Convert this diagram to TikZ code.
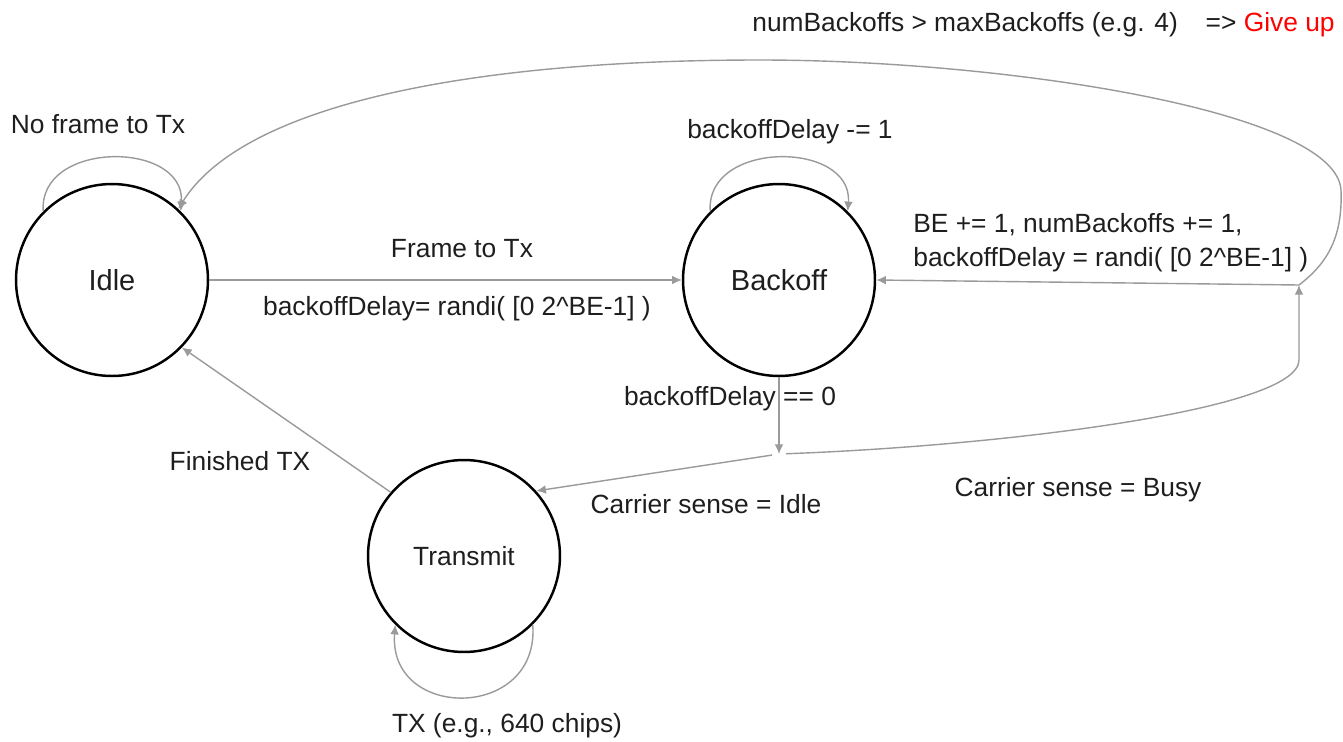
\documentclass[tikz,border=0pt]{standalone}
\usepackage{fontspec}
\setmainfont{Liberation Sans}
\usetikzlibrary{arrows.meta}
\definecolor{edgegray}{HTML}{9A9A9A}
\definecolor{txt}{HTML}{1E1E1E}
\begin{document}
\begin{tikzpicture}[x=0.02cm,y=-0.02cm,
  state/.style={circle,draw=black,line width=1.4pt,minimum size=3.84cm,inner sep=0pt,text=txt},
  bigname/.style={font=\fontsize{16.5}{20}\selectfont},
  smallname/.style={font=\fontsize{15}{18}\selectfont},
  edge/.style={draw=edgegray,line width=0.8pt,-{Latex[length=5.5pt,width=5pt]}},
  plain/.style={draw=edgegray,line width=0.8pt},
  lbl/.style={font=\fontsize{15}{19.3}\selectfont,text=txt,inner sep=0pt}]
\useasboundingbox (0,0) rectangle (1343,741);

% states
\node[state,bigname] (idle) at (112,280) {Idle};
\node[state,bigname] (backoff) at (779,280) {Backoff};
\node[state,smallname] (transmit) at (464,556) {Transmit};

% junctions
\coordinate (jMid) at (779,454);
\coordinate (jBusy) at (1299,285);

% self loops
\draw[edge] (idle.135) .. controls (38,140) and (186,140) .. (idle.45);
\draw[edge] (backoff.135) .. controls (705,140) and (853,140) .. (backoff.45);
\draw[edge] (transmit.-45) .. controls (540,721) and (388,721) .. (transmit.-135);

% transitions
\draw[edge] (idle.east) -- (backoff.west);
\draw[edge] (backoff.south) -- (jMid);
\draw[edge,shorten <=0.14cm] (jMid) -- (transmit.42);
\draw[edge,shorten <=0.14cm] (jMid) .. controls (1000,446) and (1299,410) .. (1299,360) -- (jBusy);
\draw[edge] (jBusy) -- (backoff.east);
\draw[edge] (jBusy) .. controls (1325,265) and (1343,240) .. (1341,190)
  .. controls (1336,110) and (1000,60) .. (760,60)
  .. controls (450,60) and (240,110) .. (idle.47);
\draw[edge] (transmit.139) -- (idle.-44);

% labels
\node[lbl] (lNoFrame) at (98,124) {No frame to Tx};
\node[lbl] (lDec) at (790,132) {backoffDelay -= 1};
\node[lbl] (lFrame) at (462,249) {Frame to Tx};
\node[lbl] (lInit) at (457,309) {backoffDelay= randi( [0 2\textasciicircum BE-1] )};
\node[lbl,anchor=west,align=left] (lBE) at (913,243) {BE += 1, numBackoffs += 1,\\backoffDelay = randi( [0 2\textasciicircum BE-1] )};
\node[lbl] (lZero) at (730,399) {backoffDelay == 0};
\node[lbl] (lIdle) at (706,504) {Carrier sense = Idle};
\node[lbl] (lBusy) at (1078,490) {Carrier sense = Busy};
\node[lbl] (lFin) at (240,461) {Finished TX};
\node[lbl] (lTX) at (507,726) {TX (e.g., 640 chips)};
\node[lbl,anchor=west] (lMax) at (752,25) {numBackoffs > maxBackoffs (e.g. 4)};
\node[lbl,anchor=east] (lGive) at (1335,25) {=> \textcolor{red}{Give up}};
\end{tikzpicture}
\end{document}
